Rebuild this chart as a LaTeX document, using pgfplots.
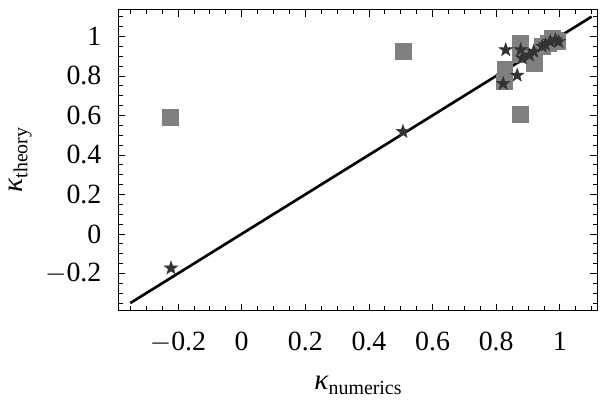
\documentclass[border=0pt]{standalone}
\usepackage{fontspec}
\setmainfont{Liberation Serif}
\usepackage{pgfplots}
\pgfplotsset{compat=1.18}
\pgfdeclareplotmark{fstar}{%
  \pgfpathmoveto{\pgfqpointpolar{90}{\pgfplotmarksize}}%
  \pgfpathlineto{\pgfqpointpolar{126}{0.4\pgfplotmarksize}}%
  \pgfpathlineto{\pgfqpointpolar{162}{\pgfplotmarksize}}%
  \pgfpathlineto{\pgfqpointpolar{198}{0.4\pgfplotmarksize}}%
  \pgfpathlineto{\pgfqpointpolar{234}{\pgfplotmarksize}}%
  \pgfpathlineto{\pgfqpointpolar{270}{0.4\pgfplotmarksize}}%
  \pgfpathlineto{\pgfqpointpolar{306}{\pgfplotmarksize}}%
  \pgfpathlineto{\pgfqpointpolar{342}{0.4\pgfplotmarksize}}%
  \pgfpathlineto{\pgfqpointpolar{18}{\pgfplotmarksize}}%
  \pgfpathlineto{\pgfqpointpolar{54}{0.4\pgfplotmarksize}}%
  \pgfpathclose
  \pgfusepathqfillstroke
}
\begin{document}
\begin{tikzpicture}
\fontsize{21}{25}\selectfont
\begin{axis}[
  width=360.75pt, height=226.5pt, scale only axis,
  xmin=-0.386, xmax=1.117, ymin=-0.386, ymax=1.134,
  xtick={-0.2,0,0.2,0.4,0.6,0.8,1},
  ytick={-0.2,0,0.2,0.4,0.6,0.8,1},
  xticklabels={$-$0.2,0,0.2,0.4,0.6,0.8,1},
  yticklabels={$-$0.2,0,0.2,0.4,0.6,0.8,1},
  minor xtick={-0.35,-0.3,...,1.1},
  minor ytick={-0.35,-0.3,...,1.1},
  xtick pos=both, ytick pos=both,
  tick align=inside,
  major tick length=5pt, minor tick length=3pt,
  every tick/.style={black, line width=0.6pt},
  axis line style={line width=0.8pt},
  ticklabel style={font=\fontsize{21}{25}\selectfont},
  xticklabel style={yshift=-9pt},
  yticklabel style={xshift=-6pt},
  /pgf/number format/assume math mode=true,
  xlabel={\textit{κ}\raisebox{-0.35ex}{\fontsize{15}{18}\selectfont numerics}},
  ylabel={\textit{κ}\raisebox{-0.35ex}{\fontsize{15}{18}\selectfont theory}},
  label style={font=\fontsize{22}{26}\selectfont},
  xlabel style={yshift=-4pt},
  ylabel style={yshift=-4pt},
  clip=false,
]
% squares
\addplot[only marks, mark=square*, mark size=6pt, color=black!50, mark options={draw=none, fill=black!50}] coordinates {
(-0.223,0.591) (0.508,0.924) (0.877,0.605)
(0.877,0.966) (0.877,0.907) (0.827,0.835) (0.824,0.773)
(0.919,0.865) (0.946,0.950) (0.965,0.966) (0.984,0.983) (0.992,0.975) (0.975,0.990)
};
% line y = x
\addplot[black, line width=2pt] coordinates {(-0.35,-0.35) (1.1,1.1)};
% stars
\addplot[only marks, mark=fstar, mark size=5.4pt, mark options={draw=black!80, fill=black!80, line width=0.3pt}] coordinates {
(-0.222,-0.173) (0.507,0.518)
(0.830,0.932) (0.822,0.761) (0.866,0.803) (0.877,0.932) (0.882,0.890)
(0.918,0.924) (0.905,0.905) (0.955,0.958) (0.970,0.974) (0.986,0.983) (0.996,0.974) (0.945,0.950)
};
\end{axis}
\path ([yshift=7.5pt]current axis.north) ([xshift=6pt]current axis.east);
\end{tikzpicture}
\end{document}
